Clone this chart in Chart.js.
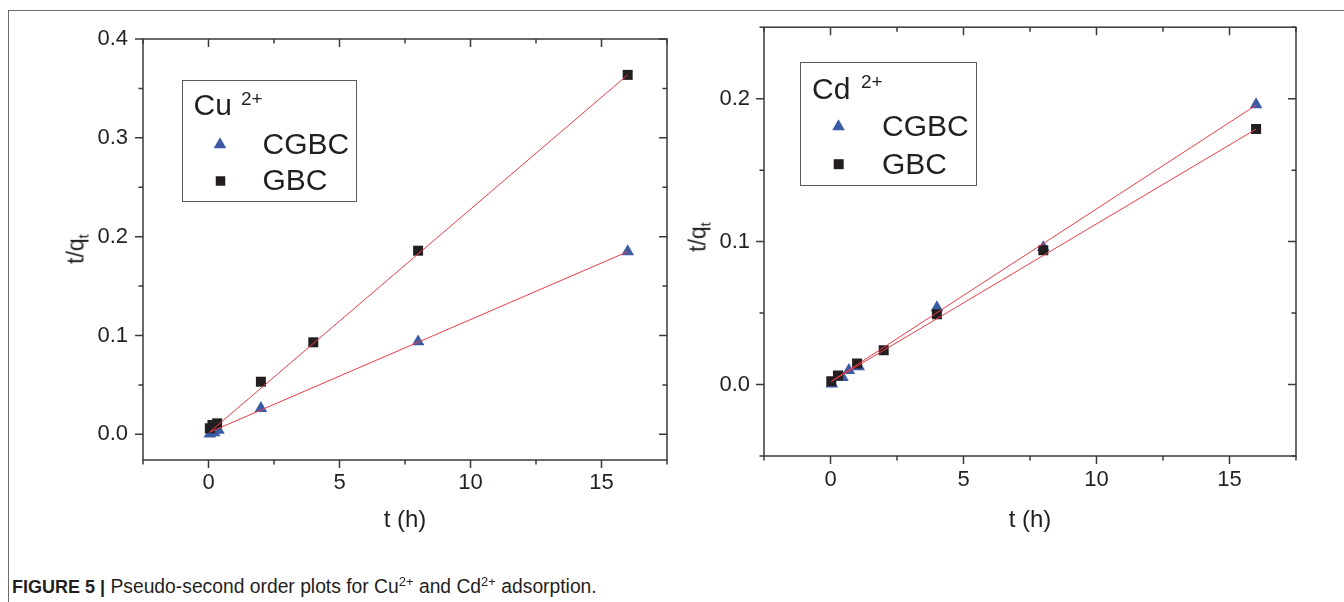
<!DOCTYPE html>
<html><head><meta charset="utf-8">
<script src="https://cdn.jsdelivr.net/npm/chart.js@4.4.1/dist/chart.umd.min.js"></script>
<style>
html,body{margin:0;padding:0;background:#fff;}
body{width:1344px;height:602px;overflow:hidden;position:relative;font-family:"Liberation Sans",Arial,sans-serif;color:#231f20;}
.abs{position:absolute;white-space:nowrap;line-height:1;}
.frameTop{position:absolute;left:8px;top:10px;width:1336px;height:1px;background:#6a6a6a;}
.frameLeft{position:absolute;left:8px;top:10px;width:1px;height:592px;background:#6a6a6a;}
canvas{position:absolute;top:0;}
.legbox{position:absolute;border:1px solid #5a5a5a;box-sizing:border-box;}
.ytitle{position:absolute;transform:translate(-50%,-50%) rotate(-90deg);font-size:23px;line-height:1;white-space:nowrap;}
.xtitle{position:absolute;transform:translate(-50%,-50%);font-size:24px;line-height:1;white-space:nowrap;}
</style>
</head><body>
<div class="frameTop"></div><div class="frameLeft"></div>
<canvas id="cu" width="700" height="560" style="left:0px;width:700px;height:560px"></canvas>
<canvas id="cd" width="664" height="560" style="left:680px;width:664px;height:560px"></canvas>

<!-- legends -->
<div class="legbox" style="left:182px;top:80px;width:175px;height:122px"></div>
<div class="abs" style="left:193.5px;top:90.3px;font-size:30px">Cu</div>
<div class="abs" style="left:241px;top:88.5px;font-size:19px">2+</div>
<div class="abs" style="left:262.5px;top:128.6px;font-size:30px">CGBC</div>
<div class="abs" style="left:262.5px;top:165.3px;font-size:30px">GBC</div>

<div class="legbox" style="left:800px;top:62px;width:177px;height:124px"></div>
<div class="abs" style="left:812px;top:73.9px;font-size:30px">Cd</div>
<div class="abs" style="left:861px;top:72px;font-size:19px">2+</div>
<div class="abs" style="left:882px;top:111.3px;font-size:30px">CGBC</div>
<div class="abs" style="left:882px;top:148.6px;font-size:30px">GBC</div>

<!-- axis titles -->
<div class="ytitle" style="left:76px;top:249px">t/q<span style="font-size:15px;position:relative;top:5px">t</span></div>
<div class="ytitle" style="left:698px;top:237px">t/q<span style="font-size:15px;position:relative;top:5px">t</span></div>
<div class="xtitle" style="left:405px;top:519px">t (h)</div>
<div class="xtitle" style="left:1030px;top:519px">t (h)</div>

<!-- caption -->
<div class="abs" style="left:12px;top:577px;font-size:19.3px"><b style="font-size:18px">FIGURE 5 |</b> Pseudo-second order plots for Cu<span style="font-size:13px;position:relative;top:-7px">2+</span> and Cd<span style="font-size:13px;position:relative;top:-7px">2+</span> adsorption.</div>

<script>
// ---------- DATA ----------
// Cu2+ panel
const cuTimeGBC  = [0.05, 0.15, 0.33, 2, 4, 8, 16];
const cuGBC      = [0.0061, 0.0094, 0.0111, 0.0532, 0.0931, 0.1858, 0.3637];
const cuTimeCGBC = [0.05, 0.22, 0.38, 2, 8, 16];
const cuCGBC     = [0.0005, 0.0016, 0.0043, 0.0263, 0.0937, 0.1848];
const cuFitTime  = [0.03, 16];
const cuFitGBC   = [0.002, 0.3637];
const cuFitCGBC  = [0.002, 0.1848];

// Cd2+ panel
const cdTimeCGBC = [0.05, 0.45, 0.69, 1.06, 4, 8, 16];
const cdCGBC     = [0.0005, 0.005, 0.0099, 0.0126, 0.0538, 0.0959, 0.1958];
const cdTimeGBC  = [0.03, 0.28, 1, 2, 4, 8, 16];
const cdGBC      = [0.0023, 0.0063, 0.0147, 0.0239, 0.0491, 0.094, 0.1787];
const cdFitTime  = [0.03, 16];
const cdFitCGBC  = [0.0022, 0.1955];
const cdFitGBC   = [0.0022, 0.1787];

// ticks
const xTicks = [0, 5, 10, 15];
const xTickLabels = ['0', '5', '10', '15'];
const xMinorTicks = [-2.5, 2.5, 7.5, 12.5, 17.5];
const cuYTicks = [0, 0.1, 0.2, 0.3, 0.4];
const cuYTickLabels = ['0.0', '0.1', '0.2', '0.3', '0.4'];
const cuYMinorTicks = [0.05, 0.15, 0.25, 0.35];
const cdYTicks = [0, 0.1, 0.2];
const cdYTickLabels = ['0.0', '0.1', '0.2'];
const cdYMinorTicks = [-0.05, 0.05, 0.15, 0.25];

// ---------- STYLE ----------
const FONT = "'Liberation Sans', Arial, sans-serif";
const TXT = '#231f20';
const RED = '#ef3b45';
const BLUE = '#3b5ba5';
const BLACK = '#231f20';
const AXIS = '#3a3a3a';

const pts = (t, v) => t.map((x, i) => ({x: x, y: v[i]}));

function drawTri(ctx, x, y, r) {
  ctx.beginPath();
  ctx.moveTo(x, y - r);
  ctx.lineTo(x + r * Math.sqrt(3) / 2, y + r / 2);
  ctx.lineTo(x - r * Math.sqrt(3) / 2, y + r / 2);
  ctx.closePath();
  ctx.fill();
}

function framePlugin(xMinor, yMinor, legendMarks) {
  return {
    id: 'frame',
    afterDraw(chart) {
      const ctx = chart.ctx;
      const a = chart.chartArea;
      const xs = chart.scales.x, ys = chart.scales.y;
      ctx.save();
      ctx.strokeStyle = AXIS;
      ctx.lineWidth = 1.5;
      ctx.strokeRect(a.left, a.top, a.right - a.left, a.bottom - a.top);
      const MAJ = 8, MIN = 4.5;
      ctx.beginPath();
      xs.ticks.forEach(t => {
        const p = xs.getPixelForValue(t.value);
        ctx.moveTo(p, a.bottom); ctx.lineTo(p, a.bottom + MAJ);
        ctx.moveTo(p, a.top); ctx.lineTo(p, a.top + MAJ);
      });
      xMinor.forEach(v => {
        const p = xs.getPixelForValue(v);
        ctx.moveTo(p, a.bottom); ctx.lineTo(p, a.bottom + MIN);
        ctx.moveTo(p, a.top); ctx.lineTo(p, a.top + MIN);
      });
      ys.ticks.forEach(t => {
        const p = ys.getPixelForValue(t.value);
        ctx.moveTo(a.left - MAJ, p); ctx.lineTo(a.left, p);
        ctx.moveTo(a.right - MAJ, p); ctx.lineTo(a.right, p);
      });
      yMinor.forEach(v => {
        const p = ys.getPixelForValue(v);
        ctx.moveTo(a.left - MIN, p); ctx.lineTo(a.left, p);
        ctx.moveTo(a.right - MIN, p); ctx.lineTo(a.right, p);
      });
      ctx.stroke();
      // legend markers
      ctx.fillStyle = BLUE;
      drawTri(ctx, legendMarks.tri[0], legendMarks.tri[1], 7.3);
      ctx.fillStyle = BLACK;
      const s = legendMarks.sq[2];
      ctx.fillRect(legendMarks.sq[0] - s / 2, legendMarks.sq[1] - s / 2, s, s);
      ctx.restore();
    }
  };
}

function makeChart(id, o) {
  return new Chart(document.getElementById(id), {
    type: 'scatter',
    data: {
      datasets: [
        {type: 'line', label: 'GBC fit', data: pts(o.fitT, o.fitGBC), borderColor: RED, borderWidth: 1,
         pointRadius: 0, fill: false, order: 0, tension: 0},
        {type: 'line', label: 'CGBC fit', data: pts(o.fitT, o.fitCGBC), borderColor: RED, borderWidth: 1,
         pointRadius: 0, fill: false, order: 0, tension: 0},
        {label: 'GBC', data: pts(o.tGBC, o.vGBC), pointStyle: 'rect', pointRadius: 7.07,
         pointBackgroundColor: BLACK, pointBorderColor: BLACK, pointBorderWidth: 0, order: 1},
        {label: 'CGBC', data: pts(o.tCGBC, o.vCGBC), pointStyle: 'triangle', pointRadius: 7.3,
         pointBackgroundColor: BLUE, pointBorderColor: BLUE, pointBorderWidth: 0, order: 2}
      ]
    },
    options: {
      responsive: false, animation: false, devicePixelRatio: 1,
      layout: {padding: o.pad},
      plugins: {legend: {display: false}, tooltip: {enabled: false}},
      events: [],
      scales: {
        x: {
          type: 'linear', min: -2.5, max: 17.5,
          grid: {display: false, drawTicks: false}, border: {display: false},
          afterBuildTicks: s => { s.ticks = xTicks.map(v => ({value: v})); },
          afterFit: s => { s.height = o.xH; },
          ticks: {font: {family: FONT, size: 22}, color: TXT, padding: o.xPad, maxRotation: 0, autoSkip: false,
                  callback: (v, i) => xTickLabels[i]}
        },
        y: {
          type: 'linear', min: o.yMin, max: o.yMax,
          grid: {display: false, drawTicks: false}, border: {display: false},
          afterBuildTicks: s => { s.ticks = o.yTicks.map(v => ({value: v})); },
          afterFit: s => { s.width = o.yW; },
          ticks: {font: {family: FONT, size: 22}, color: TXT, padding: o.yPad, autoSkip: false,
                  callback: (v, i) => o.yLabels[i]}
        }
      }
    },
    plugins: [framePlugin(xMinorTicks, o.yMinor, o.legend)]
  });
}

makeChart('cu', {
  fitT: cuFitTime, fitGBC: cuFitGBC, fitCGBC: cuFitCGBC,
  tGBC: cuTimeGBC, vGBC: cuGBC, tCGBC: cuTimeCGBC, vCGBC: cuCGBC,
  yMin: -0.026, yMax: 0.4, yTicks: cuYTicks, yLabels: cuYTickLabels, yMinor: cuYMinorTicks,
  pad: {left: 0, top: 39, right: 33, bottom: 0}, yW: 143, xH: 100, xPad: 10, yPad: 15,
  legend: {tri: [220, 144.5], sq: [220.5, 181, 9.5]}
});

makeChart('cd', {
  fitT: cdFitTime, fitGBC: cdFitGBC, fitCGBC: cdFitCGBC,
  tGBC: cdTimeGBC, vGBC: cdGBC, tCGBC: cdTimeCGBC, vCGBC: cdCGBC,
  yMin: -0.05, yMax: 0.25, yTicks: cdYTicks, yLabels: cdYTickLabels, yMinor: cdYMinorTicks,
  pad: {left: 0, top: 27, right: 48, bottom: 0}, yW: 84, xH: 104, xPad: 11, yPad: 14,
  legend: {tri: [158.5, 126.5], sq: [158.7, 164.2, 10]}
});
</script>
</body></html>
